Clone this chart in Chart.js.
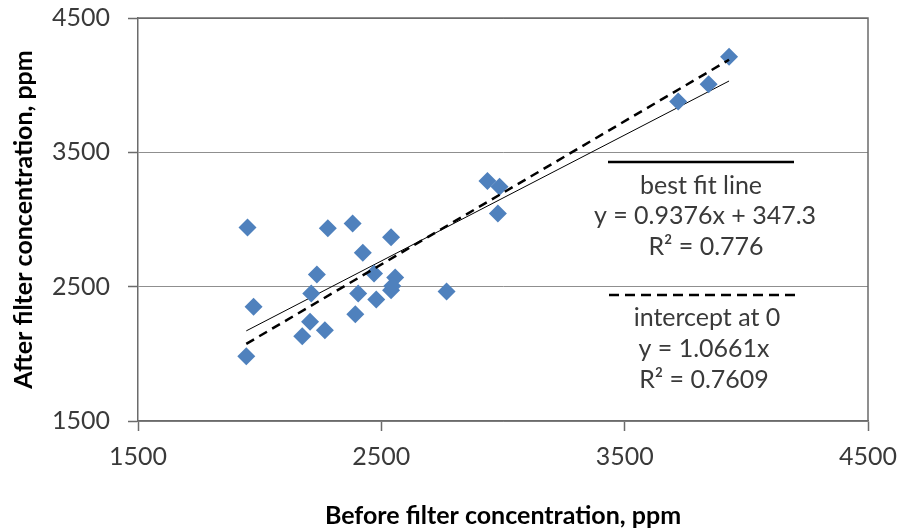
<!DOCTYPE html>
<html>
<head>
<meta charset="utf-8">
<script src="https://cdn.jsdelivr.net/npm/chart.js@4.4.1/dist/chart.umd.min.js"></script>
<style>
  html, body { margin: 0; padding: 0; background: #fff; }
  #wrap { width: 898px; height: 531px; }
</style>
</head>
<body>
<div id="wrap"><canvas id="myChart" width="898" height="531"></canvas></div>
<script>
// measured points, before vs after filter (ppm)
const beforePpm = [1950, 1975, 1945, 2280, 2382, 2540, 2424, 2235, 2470, 2557, 2212, 2405, 2540, 2545, 2479, 2768, 2207, 2393, 2175, 2268, 2936, 2986, 2979, 3720, 3845, 3929];
const afterPpm  = [2940, 2350, 1982, 2935, 2971, 2867, 2752, 2591, 2598, 2569, 2449, 2449, 2474, 2505, 2405, 2464, 2238, 2295, 2131, 2176, 3286, 3244, 3045, 3879, 4006, 4212];

// trend lines (endpoints)
const fitX = [1945, 3929];
const fitY = [2171, 4031];
const zeroX = [1945, 3929];
const zeroY = [2074, 4189];

const xTicks = [1500, 2500, 3500, 4500];
const yTicks = [1500, 2500, 3500, 4500];

const fitLabel = ['best fit line', 'y = 0.9376x + 347.3', 'R\u00b2 = 0.776'];
const zeroLabel = ['intercept at 0', 'y = 1.0661x', 'R\u00b2 = 0.7609'];

const fontFam = 'Lato, "Noto Sans", sans-serif';
const textCol = '#3a3a3a';
const axisCol = '#6b6b6b';

function pairs(xs, ys) {
    return xs.map(function(x, i) { return {x: x, y: ys[i]}; });
}

const frameAndNotes = {
    id: 'frameAndNotes',
    afterDraw: function(chart) {
        const ctx = chart.ctx;
        const a = chart.chartArea;
        ctx.save();
        // top + right frame
        ctx.strokeStyle = axisCol;
        ctx.lineWidth = 1.5;
        ctx.beginPath();
        ctx.moveTo(a.left, a.top);
        ctx.lineTo(a.right, a.top);
        ctx.lineTo(a.right, a.bottom);
        ctx.stroke();

        // key for the two lines
        ctx.strokeStyle = '#000';
        ctx.lineWidth = 2.5;
        ctx.beginPath();
        ctx.moveTo(608, 162);
        ctx.lineTo(794, 162);
        ctx.stroke();
        ctx.setLineDash([10, 6]);
        ctx.beginPath();
        ctx.moveTo(609, 295);
        ctx.lineTo(797, 295);
        ctx.stroke();
        ctx.setLineDash([]);

        ctx.fillStyle = textCol;
        ctx.font = '25px ' + fontFam;
        ctx.textAlign = 'center';
        ctx.textBaseline = 'middle';
        const fitPos = [[701, 186], [705, 216], [706, 247]];
        fitLabel.forEach(function(t, i) { ctx.fillText(t, fitPos[i][0], fitPos[i][1]); });
        const zeroPos = [[707, 318], [704, 349], [704, 380]];
        zeroLabel.forEach(function(t, i) { ctx.fillText(t, zeroPos[i][0], zeroPos[i][1]); });
        ctx.restore();
    }
};

const ctx = document.getElementById('myChart').getContext('2d');
const myChart = new Chart(ctx, {
    type: 'scatter',
    data: {
        datasets: [{
            label: 'data',
            data: pairs(beforePpm, afterPpm),
            pointStyle: 'rectRot',
            pointRadius: 9,
            pointHoverRadius: 9,
            backgroundColor: '#4f81bd',
            borderColor: '#4f81bd',
            borderWidth: 0,
            order: 1
        }, {
            label: 'best fit',
            type: 'line',
            data: pairs(fitX, fitY),
            borderColor: '#000',
            borderWidth: 1,
            pointRadius: 0,
            fill: false,
            order: 2
        }, {
            label: 'intercept 0',
            type: 'line',
            data: pairs(zeroX, zeroY),
            borderColor: '#000',
            borderWidth: 2.5,
            borderDash: [9, 6],
            pointRadius: 0,
            fill: false,
            order: 0
        }]
    },
    options: {
        responsive: false,
        animation: false,
        events: [],
        layout: { padding: { top: 18, right: 30, left: 0, bottom: 0 } },
        plugins: {
            legend: { display: false },
            tooltip: { enabled: false }
        },
        scales: {
            x: {
                type: 'linear',
                min: 1500,
                max: 4500,
                afterBuildTicks: function(s) { s.ticks = xTicks.map(function(v) { return {value: v}; }); },
                afterFit: function(s) { s.height = 110; s.paddingLeft = 0; s.paddingRight = 0; },
                ticks: {
                    color: textCol,
                    font: { family: fontFam, size: 25 },
                    padding: 11,
                    maxRotation: 0,
                    callback: function(v) { return String(v); }
                },
                grid: { drawOnChartArea: false, drawTicks: true, tickLength: 10, tickColor: axisCol, tickWidth: 1.5 },
                border: { color: axisCol, width: 1.5 },
                title: {
                    display: true,
                    text: 'Before filter concentration, ppm',
                    color: '#000',
                    font: { family: fontFam, size: 25, weight: 'bold' },
                    padding: { top: 0, bottom: 0 }
                }
            },
            y: {
                type: 'linear',
                min: 1500,
                max: 4500,
                afterBuildTicks: function(s) { s.ticks = yTicks.map(function(v) { return {value: v}; }); },
                afterFit: function(s) { s.width = 138; s.paddingTop = 0; s.paddingBottom = 0; },
                ticks: {
                    color: textCol,
                    font: { family: fontFam, size: 25 },
                    padding: 18,
                    callback: function(v) { return String(v); }
                },
                grid: {
                    color: function(c) { return c.tick && c.tick.value === 4500 ? axisCol : '#8f8f8f'; },
                    lineWidth: 1,
                    tickLength: 10,
                    tickColor: axisCol,
                    tickWidth: 1.5
                },
                border: { color: axisCol, width: 1.5 },
                title: {
                    display: true,
                    text: 'After filter concentration, ppm',
                    color: '#000',
                    font: { family: fontFam, size: 25, weight: 'bold' },
                    padding: { top: 9, bottom: 0 }
                }
            }
        }
    },
    plugins: [frameAndNotes]
});
</script>
</body>
</html>
